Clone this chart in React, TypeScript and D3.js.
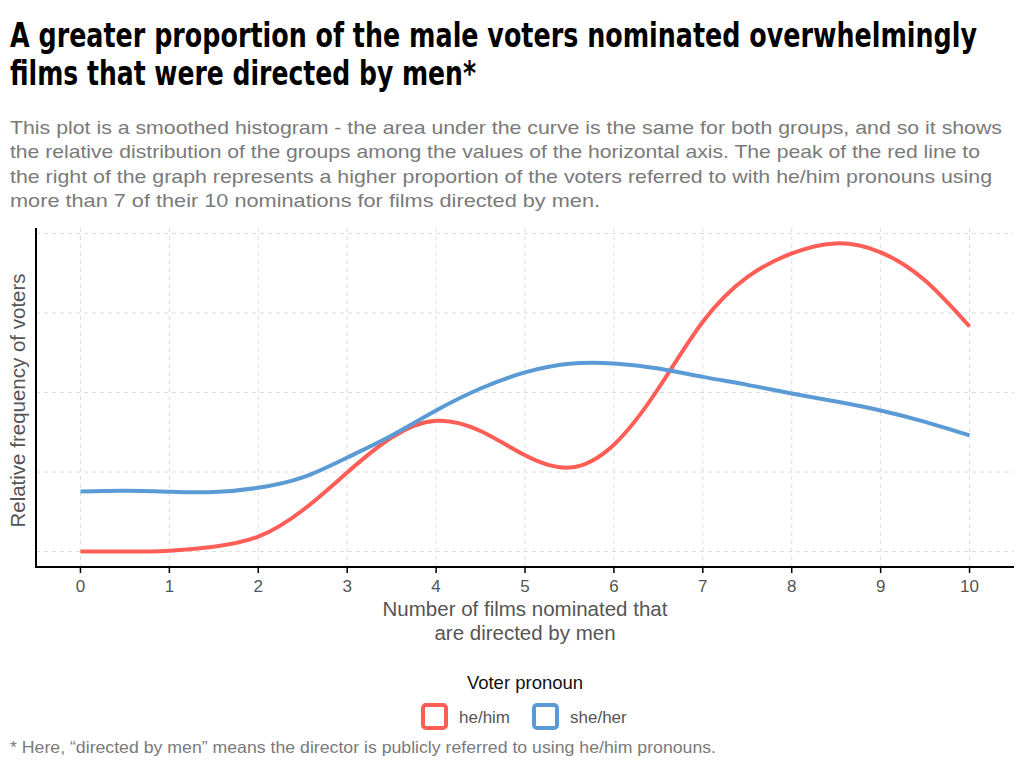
import React from "react";
import * as d3 from "d3";

// number of films (out of 10) directed by men
const xValues = [0, 0.5, 1, 1.5, 2, 2.5, 3, 3.5, 4, 4.5, 5, 5.5, 6, 6.5, 7, 7.5, 8, 8.5, 9, 9.5, 10];
// smoothed density, he/him voters
const heHim = [0, 0, 0.0006, 0.0031, 0.0094, 0.026, 0.0497, 0.0717, 0.0822, 0.0758, 0.0605, 0.0528, 0.0672, 0.1025, 0.1445, 0.1725, 0.1874, 0.1937, 0.1881, 0.1704, 0.1415];
// smoothed density, she/her voters
const sheHer = [0.0377, 0.0382, 0.0376, 0.0374, 0.0401, 0.0466, 0.0591, 0.073, 0.0887, 0.1025, 0.1126, 0.118, 0.1182, 0.1151, 0.1098, 0.1048, 0.0994, 0.0943, 0.0887, 0.0815, 0.073];
const xTicks = [0, 1, 2, 3, 4, 5, 6, 7, 8, 9, 10];
const yGrid = [0, 0.05, 0.1, 0.15, 0.2];
const seriesNames = ["he/him", "she/her"];
const colors = ["#ff5e57", "#5b9bd5"];

const titleLines = [
  "A greater proportion of the male voters nominated overwhelmingly",
  "films that were directed by men*",
];
const subtitleLines = [
  "This plot is a smoothed histogram - the area under the curve is the same for both groups, and so it shows",
  "the relative distribution of the groups among the values of the horizontal axis. The peak of the red line to",
  "the right of the graph represents a higher proportion of the voters referred to with he/him pronouns using",
  "more than 7 of their 10 nominations for films directed by men.",
];
const subtitleWidths = [992, 970, 982, 590];

const W = 1024, H = 768;
const left = 36, right = 1014, top = 228, bottom = 567;

export default function App() {
  const x = d3.scaleLinear().domain([-0.5, 10.5]).range([left, right]);
  const ymax = 0.1937;
  const pad = ymax * 0.05;
  const y = d3.scaleLinear().domain([-pad, ymax + pad]).range([bottom, top]);

  const line = d3.line<number>()
    .x((_, i) => x(xValues[i]))
    .y((d) => y(d))
    .curve(d3.curveNatural);

  const series = [heHim, sheHer];
  const font = "'Liberation Sans', Arial, Helvetica, sans-serif";

  return (
    <div style={{ position: "absolute", left: 0, top: 0 }}>
      <svg width={W} height={H} style={{ display: "block", background: "#fff" }}>
        {/* title */}
        {titleLines.map((t, i) => (
          <text key={i} x={10} y={47 + i * 38} fontFamily="'DejaVu Sans Condensed', 'Liberation Sans Narrow', sans-serif"
            fontWeight="bold" fontSize={34} fill="#000"
            textLength={i === 0 ? 967 : 466} lengthAdjust="spacingAndGlyphs">{t}</text>
        ))}
        {/* subtitle */}
        {subtitleLines.map((t, i) => (
          <text key={i} x={10} y={134 + i * 24.3} fontFamily={font} fontSize={19} fill="#7a7a7a"
            textLength={subtitleWidths[i]} lengthAdjust="spacingAndGlyphs">{t}</text>
        ))}

        {/* grid */}
        {yGrid.map((v) => (
          <line key={"h" + v} x1={left} x2={right} y1={y(v)} y2={y(v)} stroke="#dcdcdc" strokeWidth={1} strokeDasharray="4,4" />
        ))}
        {xTicks.map((v) => (
          <line key={"v" + v} x1={x(v)} x2={x(v)} y1={top} y2={bottom} stroke="#dcdcdc" strokeWidth={1} strokeDasharray="4,4" />
        ))}

        {/* curves */}
        {series.map((s, i) => (
          <path key={i} d={line(s) || ""} fill="none" stroke={colors[i]} strokeWidth={4} />
        ))}

        {/* axes */}
        <line x1={left} x2={left} y1={top} y2={bottom} stroke="#000" strokeWidth={2} />
        <line x1={left - 1} x2={right} y1={bottom} y2={bottom} stroke="#000" strokeWidth={2} />
        {xTicks.map((v) => (
          <g key={"t" + v}>
            <line x1={x(v)} x2={x(v)} y1={bottom} y2={bottom + 6} stroke="#000" strokeWidth={1.5} />
            <text x={x(v)} y={592} textAnchor="middle" fontFamily={font} fontSize={17} fill="#555">{v}</text>
          </g>
        ))}

        {/* axis titles */}
        <text x={525} y={616} textAnchor="middle" fontFamily={font} fontSize={20.5} fill="#555">Number of films nominated that</text>
        <text x={525} y={640} textAnchor="middle" fontFamily={font} fontSize={20.5} fill="#555">are directed by men</text>
        <text transform={`translate(25,${(top + bottom) / 2 + 3}) rotate(-90)`} textAnchor="middle" fontFamily={font} fontSize={20.5} fill="#555">
          Relative frequency of voters
        </text>

        {/* legend */}
        <text x={525} y={689} textAnchor="middle" fontFamily={font} fontSize={18.5} fill="#111">Voter pronoun</text>
        {seriesNames.map((n, i) => {
          const bx = 421 + i * 111;
          return (
            <g key={n}>
              <rect x={bx + 2} y={705} width={23} height={23} rx={3} fill="#fff" stroke={colors[i]} strokeWidth={4} />
              <text x={bx + 38} y={723} fontFamily={font} fontSize={17} fill="#555">{n}</text>
            </g>
          );
        })}

        {/* footnote */}
        <text x={10} y={753} fontFamily={font} fontSize={16.5} fill="#7a7a7a" textLength={706} lengthAdjust="spacingAndGlyphs">
          * Here, “directed by men” means the director is publicly referred to using he/him pronouns.
        </text>
      </svg>
    </div>
  );
}
